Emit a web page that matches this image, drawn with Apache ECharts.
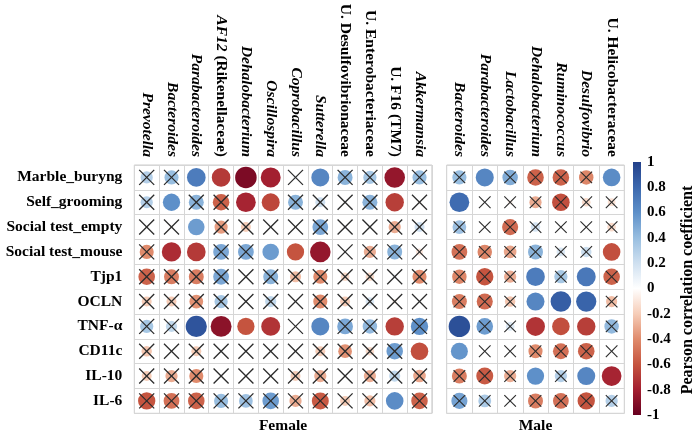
<!DOCTYPE html>
<html><head><meta charset="utf-8">
<script src="https://cdn.jsdelivr.net/npm/echarts@6/dist/echarts.min.js"></script>
<style>html,body{margin:0;padding:0;background:#fff}#c{width:697px;height:435px}</style>
</head><body><div id="c"></div>
<script>
const rows = ['Marble_buryng','Self_grooming','Social test_empty','Social test_mouse','Tjp1','OCLN','TNF-α','CD11c','IL-10','IL-6'];
const femaleTaxa = ['Prevotella','Bacteroides','Parabacteroides','AF12 (Rikenellaceae)','Dehalobacterium','Oscillospira','Coprobacillus','Sutterella','U. Desulfovibrionaceae','U. Enterobacteriaceae','U. F16 (TM7)','Akkermansia'];
const maleTaxa = ['Bacteroides','Parabacteroides','Lactobacillus','Dehalobacterium','Ruminococcus','Desulfovibrio','U. Helicobacteraceae'];

const femaleR = [
  [0.30, 0.40, 0.70, -0.70, -0.93, -0.80, 0.05, 0.65, 0.45, 0.35, -0.85, 0.40],
  [0.30, 0.60, 0.45, -0.55, -0.78, -0.65, 0.45, 0.20, 0.03, 0.45, -0.68, -0.03],
  [0.02, -0.03, 0.55, -0.35, -0.20, 0.00, 0.00, 0.50, 0.03, 0.00, -0.30, 0.20],
  [-0.40, -0.75, -0.70, 0.50, 0.50, 0.55, -0.60, -0.85, 0.00, -0.30, 0.45, -0.10],
  [-0.55, -0.45, -0.45, 0.50, 0.00, 0.45, -0.25, -0.40, -0.15, -0.15, 0.05, -0.40],
  [-0.20, -0.20, -0.38, 0.35, 0.00, 0.25, 0.00, -0.40, -0.20, 0.15, -0.05, 0.00],
  [0.35, 0.25, 0.90, -0.88, -0.60, -0.72, 0.00, 0.65, 0.50, 0.42, -0.68, 0.60],
  [-0.22, 0.00, -0.20, 0.00, 0.00, 0.00, 0.00, -0.20, -0.38, -0.15, 0.55, -0.62],
  [-0.20, -0.30, -0.40, 0.00, 0.00, 0.00, -0.20, -0.30, 0.00, -0.30, 0.25, -0.32],
  [-0.60, -0.50, -0.55, 0.40, 0.38, 0.55, -0.30, -0.58, -0.20, -0.25, 0.62, -0.55]
];
const femaleSig = [
  [0,0,1,1,1,1,0,1,0,0,1,0],
  [0,1,0,0,1,1,0,0,0,0,1,0],
  [0,0,1,0,0,0,0,0,0,0,0,0],
  [0,1,1,0,0,1,1,1,0,0,0,0],
  [0,0,0,0,0,0,0,0,0,0,0,0],
  [0,0,0,0,0,0,0,0,0,0,0,0],
  [0,0,1,1,1,1,0,1,0,0,1,0],
  [0,0,0,0,0,0,0,0,0,0,0,1],
  [0,0,0,0,0,0,0,0,0,0,0,0],
  [0,0,0,0,0,0,0,0,0,0,1,0]
];
const maleR = [
  [0.40, 0.65, 0.48, -0.55, -0.55, -0.42, 0.62],
  [0.78, 0.00, -0.05, -0.30, -0.62, -0.15, -0.12],
  [0.38, 0.00, -0.52, 0.18, 0.00, 0.00, -0.15],
  [-0.50, -0.42, -0.32, 0.45, 0.15, 0.22, -0.62],
  [-0.42, -0.60, -0.30, 0.70, 0.35, 0.72, -0.55],
  [-0.45, -0.52, -0.22, 0.65, 0.85, 0.82, -0.25],
  [0.92, 0.55, 0.15, -0.72, -0.62, -0.68, 0.42],
  [0.58, 0.00, 0.00, -0.40, -0.50, -0.55, 0.00],
  [-0.45, -0.58, -0.30, 0.60, 0.30, 0.65, -0.78],
  [0.52, 0.33, 0.03, -0.45, -0.50, -0.60, 0.30]
];
const maleSig = [
  [0,1,0,0,0,0,1],
  [1,0,0,0,0,0,0],
  [0,0,0,0,0,0,0],
  [0,0,0,0,0,0,1],
  [0,0,0,1,0,1,0],
  [0,0,0,1,1,1,0],
  [1,0,0,1,1,1,0],
  [1,0,0,0,0,0,0],
  [0,0,0,1,0,1,1],
  [0,0,0,0,0,0,0]
];
const colorbarTicks = [-1, -0.8, -0.6, -0.4, -0.2, 0, 0.2, 0.4, 0.6, 0.8, 1];
const colorbarLabels = ['-1', '-0.8', '-0.6', '-0.4', '-0.2', '0', '0.2', '0.4', '0.6', '0.8', '1'];
const palette = ['#67001F','#A31F30','#C5543F','#E08B6C','#F6CDB8','#FFFFFF','#CFE0F0','#98BEE0','#5E90C9','#3C68AE','#22408A'];

const FONT = '"Liberation Serif", "Times New Roman", serif';

function toData(R, S) {
  const out = [];
  R.forEach((row, yi) => row.forEach((v, xi) => out.push([xi, yi, v, S[yi][xi]])));
  return out;
}

function makeRender(xHalf, xWidth) {
  return function (params, api) {
    const c = api.coord([api.value(0), api.value(1)]);
    const sz = api.size([1, 1]);
    const cell = Math.min(sz[0], sz[1]);
    const v = api.value(2);
    const rad = 0.45 * cell * Math.sqrt(Math.abs(v));
    const children = [{
      type: 'circle', shape: { cx: c[0], cy: c[1], r: rad },
      style: { fill: api.visual('color') }
    }];
    if (!api.value(3)) {
      const h = xHalf;
      const st = { stroke: '#2b2b2b', lineWidth: xWidth };
      children.push({ type: 'line', shape: { x1: c[0]-h, y1: c[1]-h, x2: c[0]+h, y2: c[1]+h }, style: st });
      children.push({ type: 'line', shape: { x1: c[0]-h, y1: c[1]+h, x2: c[0]+h, y2: c[1]-h }, style: st });
    }
    return { type: 'group', children };
  };
}

function taxonLabel(name) {
  if (name.startsWith('U.')) return '{n|' + name + '}';
  const i = name.indexOf(' (');
  if (i > 0) return '{i|' + name.slice(0, i) + '}{n| ' + name.slice(i + 1) + '}';
  return '{i|' + name + '}';
}
const rich = {
  i: { fontFamily: FONT, fontWeight: 'bold', fontStyle: 'italic', fontSize: 15.5, color: '#000' },
  n: { fontFamily: FONT, fontWeight: 'bold', fontSize: 15.5, color: '#000' }
};

const gridLine = { show: true, interval: 0, lineStyle: { color: '#d6d6d6', width: 1 } };

const catX = (gi, data) => ({
  type: 'category', gridIndex: gi, data, position: 'top',
  axisLine: { show: false }, axisTick: { show: false }, splitLine: gridLine,
  axisLabel: { interval: 0, rotate: 90, margin: 8, formatter: taxonLabel, rich }
});
const catY = (gi, showLabel) => ({
  type: 'category', gridIndex: gi, data: rows, inverse: true,
  axisLine: { show: false }, axisTick: { show: false }, splitLine: gridLine,
  axisLabel: { show: showLabel, interval: 0, margin: 12, fontFamily: FONT, fontWeight: 'bold', fontSize: 15.5, color: '#000' }
});

const chart = echarts.init(document.getElementById('c'), null, { renderer: 'canvas' });
chart.setOption({
  animation: false,
  backgroundColor: '#fff',
  grid: [
    { left: 134.3, top: 165, width: 297.6, height: 248.3, show: true, borderColor: '#cccccc', borderWidth: 1, containLabel: false },
    { left: 446.7, top: 165, width: 177.6, height: 248.3, show: true, borderColor: '#cccccc', borderWidth: 1, containLabel: false },
    { left: 633, top: 162, width: 8, height: 253, containLabel: false }
  ],
  xAxis: [
    catX(0, femaleTaxa),
    catX(1, maleTaxa),
    { type: 'value', gridIndex: 2, min: 0, max: 1, show: false }
  ],
  yAxis: [
    catY(0, true),
    catY(1, false),
    {
      type: 'value', gridIndex: 2, min: -1, max: 1, interval: 0.2, position: 'right',
      axisLine: { show: false }, splitLine: { show: false },
      axisTick: { show: false },
      axisLabel: {
        margin: 6, fontFamily: FONT, fontWeight: 'bold', fontSize: 15, color: '#000',
        formatter: v => { const k = colorbarTicks.findIndex(t => Math.abs(t - v) < 1e-6); return k >= 0 ? colorbarLabels[k] : ''; }
      }
    }
  ],
  visualMap: {
    type: 'continuous', show: false, min: -1, max: 1, dimension: 2, seriesIndex: [0, 1],
    inRange: { color: palette }
  },
  series: [
    { type: 'custom', xAxisIndex: 0, yAxisIndex: 0, data: toData(femaleR, femaleSig), renderItem: makeRender(7.5, 1.3), encode: { x: 0, y: 1 } },
    { type: 'custom', xAxisIndex: 1, yAxisIndex: 1, data: toData(maleR, maleSig), renderItem: makeRender(5.8, 1.1), encode: { x: 0, y: 1 } },
    {
      type: 'custom', xAxisIndex: 2, yAxisIndex: 2, data: [[0, -1]], silent: true,
      renderItem: function (params, api) {
        const p1 = api.coord([0, 1]);
        const p2 = api.coord([1, -1]);
        const stops = palette.map((c, i) => ({ offset: 1 - i / (palette.length - 1), color: c }));
        stops.reverse();
        return {
          type: 'rect', shape: { x: p1[0], y: p1[1], width: p2[0] - p1[0], height: p2[1] - p1[1] },
          style: { fill: new echarts.graphic.LinearGradient(0, 0, 0, 1, stops) }
        };
      }
    }
  ],
  graphic: [
    { type: 'text', x: 283, y: 426, style: { text: 'Female', align: 'center', verticalAlign: 'middle', font: 'bold 15.5px ' + FONT, fill: '#000' } },
    { type: 'text', x: 535.5, y: 426, style: { text: 'Male', align: 'center', verticalAlign: 'middle', font: 'bold 15.5px ' + FONT, fill: '#000' } },
    { type: 'text', x: 688, y: 290, rotation: Math.PI / 2, style: { text: 'Pearson correlation coefficient', align: 'center', verticalAlign: 'middle', font: 'bold 16px ' + FONT, fill: '#000' } }
  ]
});
</script>
</body></html>
